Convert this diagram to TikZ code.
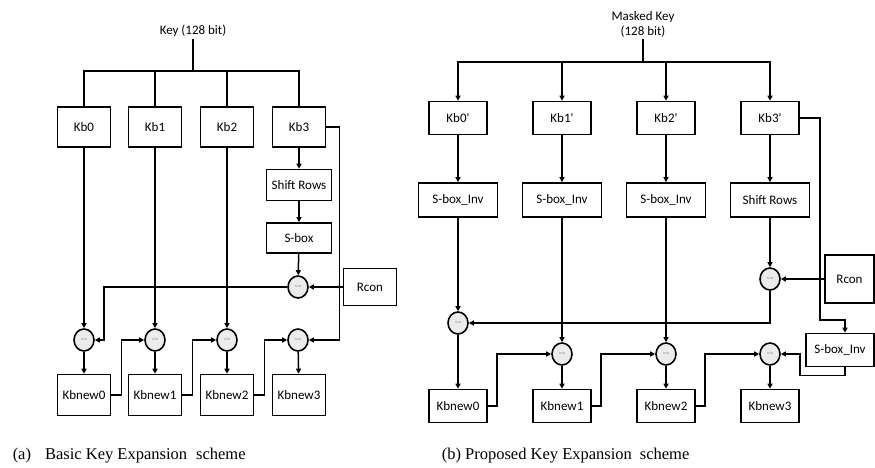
\documentclass[tikz,border=0pt]{standalone}
\usepackage{fontspec}
\setmainfont{Liberation Serif}
\newfontfamily\boxfont{Carlito}
\usetikzlibrary{positioning,arrows.meta,calc,shapes.geometric}

\begin{document}
\begin{tikzpicture}[x=1pt, y=-1pt, line width=1.5pt,
  box/.style={draw, line width=1.6pt, align=center, inner sep=1pt,
    font=\boxfont\fontsize{13}{15}\selectfont},
  kb/.style={box, minimum width=53pt, minimum height=40pt},
  kbm/.style={box, minimum width=58pt, minimum height=33pt},
  wbox/.style={box, minimum width=79pt, minimum height=34pt},
  xor/.style={ellipse, draw, line width=1.6pt, fill=gray!15, inner sep=0pt,
    minimum width=20pt, minimum height=22pt, text=gray, font=\fontsize{3}{3}\selectfont},
  lbl/.style={font=\boxfont\fontsize{13}{15}\selectfont, align=center, inner sep=1pt},
  captxt/.style={anchor=base west, inner sep=0pt, font=\fontsize{16.5}{18}\selectfont},
  arr/.style={-{Triangle[length=5pt,width=5pt]}},
  dot/.style={fill, circle, inner sep=0pt, minimum size=3.8pt}]
\useasboundingbox (0,0) rectangle (875,468);

% (a) basic key expansion
\node[lbl] (key) at (193,31) {Key (128 bit)};
\coordinate (busa) at (193,71);
\node[kb] (kb0) at (84,127) {Kb0};
\node[kb] (kb1) at (155,127) {Kb1};
\node[kb] (kb2) at (227,127) {Kb2};
\node[kb] (kb3) at (299,127) {Kb3};
\node[box, minimum width=65pt, minimum height=31pt] (shr) at (299,185) {Shift Rows};
\node[box, minimum width=65pt, minimum height=30pt] (sbx) at (299,238) {S-box};
\node[xor] (xt) at (298,287) {XOR};
\node[box, minimum width=53pt, minimum height=37pt] (rcon) at (370,287) {Rcon};
\node[xor] (x0) at (84,340) {XOR};
\node[xor] (x1) at (155,340) {XOR};
\node[xor] (x2) at (227,340) {XOR};
\node[xor] (x3) at (298,340) {XOR};
\node[kb, minimum height=41pt] (kn0) at (84,395) {Kbnew0};
\node[kb, minimum height=41pt] (kn1) at (155,395) {Kbnew1};
\node[kb, minimum height=41pt] (kn2) at (227,395) {Kbnew2};
\node[kb, minimum height=41pt] (kn3) at (299,395) {Kbnew3};

\draw (key.south) -- (busa);
\draw (kb0.north) |- (busa) -| (kb3.north);
\draw (kb1.north) -- (kb1.north |- busa);
\draw (kb2.north) -- (kb2.north |- busa);
\draw[arr] (kb0) -- (x0);
\draw[arr] (kb1) -- (x1);
\draw[arr] (kb2) -- (x2);
\draw[arr] (kb3) -- (shr);
\draw[arr] (shr) -- (sbx);
\draw[arr] (sbx) -- (xt);
\draw[arr] (rcon) -- (xt);
\draw[arr] (kb3.east) -- ++(13,0) |- (x3.east);
\draw[arr] (xt.west) -| ([xshift=9pt]x0.east) -- (x0.east);
\node[dot] (da1) at (kb1 |- xt) {};
\node[dot] (da2) at (kb2 |- xt) {};
\node[dot] (da3) at ([xshift=13pt]kb3.east |- xt) {};
\draw[arr] (x0) -- (kn0);
\draw[arr] (x1) -- (kn1);
\draw[arr] (x2) -- (kn2);
\draw[arr] (x3) -- (kn3);
\draw[arr] (kn0.east) -- ++(10,0) |- (x1.west);
\draw[arr] (kn1.east) -- ++(10,0) |- (x2.west);
\draw[arr] (kn2.east) -- ++(10,0) |- (x3.west);
\node[captxt] (capa) at (12,459) {(a)\hspace{14pt}Basic Key Expansion\hspace{9pt}scheme};

% (b) proposed key expansion
\node[lbl] (mkey) at (643,24) {Masked Key\\(128 bit)};
\coordinate (busb) at (643,62);
\node[kbm] (mk0) at (458,118) {Kb0'};
\node[kbm] (mk1) at (562,118) {Kb1'};
\node[kbm] (mk2) at (666,118) {Kb2'};
\node[kbm] (mk3) at (770,118) {Kb3'};
\node[wbox] (si0) at (458,200) {S-box\_Inv};
\node[wbox] (si1) at (562,200) {S-box\_Inv};
\node[wbox] (si2) at (666,200) {S-box\_Inv};
\node[wbox] (shrb) at (770,200) {Shift Rows};
\node[xor] (xtb) at (770,279) {XOR};
\node[box, minimum width=49pt, minimum height=48pt] (rconb) at (849.5,279) {Rcon};
\node[box, minimum width=68pt, minimum height=33pt] (sir) at (840,350) {S-box\_Inv};
\node[xor] (y0) at (458,323) {XOR};
\node[xor] (y1) at (562,354) {XOR};
\node[xor] (y2) at (666,354) {XOR};
\node[xor] (y3) at (770,354) {XOR};
\node[kbm] (nw0) at (458,406) {Kbnew0};
\node[kbm] (nw1) at (562,406) {Kbnew1};
\node[kbm] (nw2) at (666,406) {Kbnew2};
\node[kbm] (nw3) at (770,406) {Kbnew3};

\draw (mkey.south) -- (busb);
\draw[arr] (busb) -| (mk0);
\draw[arr] (busb) -| (mk1);
\draw[arr] (busb) -| (mk2);
\draw[arr] (busb) -| (mk3);
\draw[arr] (mk0) -- (si0);
\draw[arr] (mk1) -- (si1);
\draw[arr] (mk2) -- (si2);
\draw[arr] (mk3) -- (shrb);
\draw[arr] (si0) -- (y0);
\draw[arr] (si1) -- (y1);
\draw[arr] (si2) -- (y2);
\draw[arr] (shrb) -- (xtb);
\draw[arr] (rconb) -- (xtb);
\draw[arr] (xtb.south) |- (y0.east);
\draw[arr] (mk3.east) -- ++(20,0) -- ++(0,202) -| ([xshift=5pt]sir.north);
\draw[arr] ([xshift=5pt]sir.south) -- ++(0,8) -- ++(-45,0) |- (y3.east);
\node[dot] (db1) at (si1 |- y0) {};
\node[dot] (db2) at (si2 |- y0) {};
\node[dot] (db3) at ([xshift=20pt]mk3.east |- xtb) {};
\draw[arr] (y0) -- (nw0);
\draw[arr] (y1) -- (nw1);
\draw[arr] (y2) -- (nw2);
\draw[arr] (y3) -- (nw3);
\draw[arr] (nw0.east) -- ++(9,0) |- (y1.west);
\draw[arr] (nw1.east) -- ++(9,0) |- (y2.west);
\draw[arr] (nw2.east) -- ++(9,0) |- (y3.west);
\node[captxt] (capb) at (441,459) {(b) Proposed Key Expansion\hspace{8pt}scheme};
\end{tikzpicture}
\end{document}
